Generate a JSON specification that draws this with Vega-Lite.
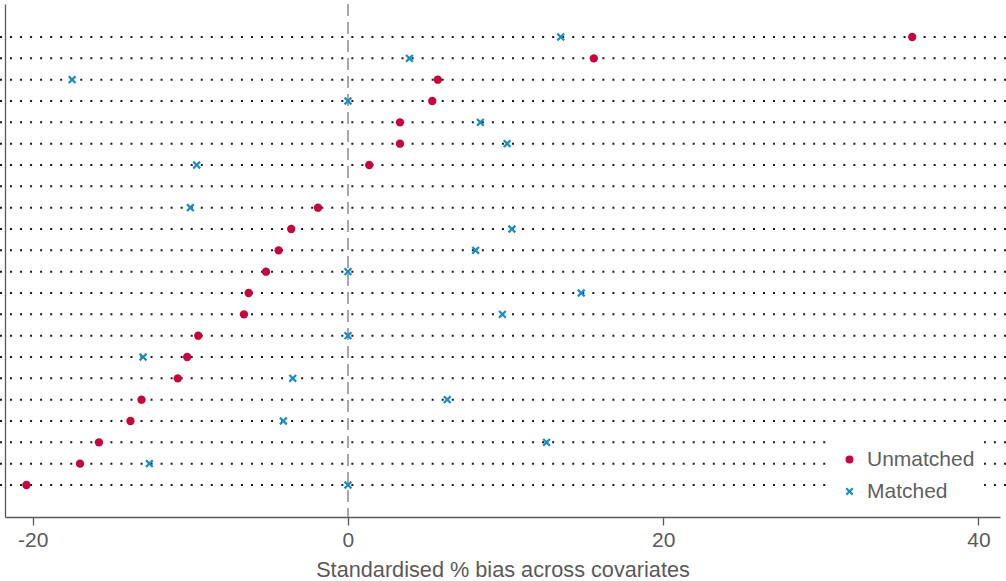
{
  "$schema": "https://vega.github.io/schema/vega-lite/v6.json",
  "width": 995,
  "height": 513,
  "autosize": "none",
  "padding": {"left": 5, "top": 4, "right": 6, "bottom": 64},
  "background": "white",
  "config": {
    "font": "Liberation Sans",
    "view": {"stroke": null},
    "axisX": {
      "grid": false,
      "tickSize": 8,
      "tickWidth": 1.3,
      "tickColor": "#5a5a5a",
      "domainColor": "#5a5a5a",
      "domainWidth": 1.3,
      "labelFontSize": 21,
      "labelColor": "#5a5a5a",
      "labelPadding": 4,
      "titleFontSize": 21.7,
      "titleFontWeight": "normal",
      "titleColor": "#5a5a5a",
      "titlePadding": 9
    },
    "axisY": {
      "grid": false,
      "ticks": false,
      "labels": false,
      "domainColor": "#5a5a5a",
      "domainWidth": 1.3
    }
  },
  "data": {
    "values": [
      {"row": 1, "Unmatched": 35.8, "Matched": 13.5},
      {"row": 2, "Unmatched": 15.6, "Matched": 3.9},
      {"row": 3, "Unmatched": 5.7, "Matched": -17.5},
      {"row": 4, "Unmatched": 5.35, "Matched": 0.0},
      {"row": 5, "Unmatched": 3.3, "Matched": 8.4},
      {"row": 6, "Unmatched": 3.3, "Matched": 10.1},
      {"row": 7, "Unmatched": 1.35, "Matched": -9.6},
      {"row": 8, "Unmatched": null, "Matched": null},
      {"row": 9, "Unmatched": -1.9, "Matched": -10.0},
      {"row": 10, "Unmatched": -3.6, "Matched": 10.4},
      {"row": 11, "Unmatched": -4.4, "Matched": 8.1},
      {"row": 12, "Unmatched": -5.2, "Matched": 0.0},
      {"row": 13, "Unmatched": -6.3, "Matched": 14.8},
      {"row": 14, "Unmatched": -6.6, "Matched": 9.8},
      {"row": 15, "Unmatched": -9.5, "Matched": 0.0},
      {"row": 16, "Unmatched": -10.2, "Matched": -13.0},
      {"row": 17, "Unmatched": -10.8, "Matched": -3.5},
      {"row": 18, "Unmatched": -13.1, "Matched": 6.3},
      {"row": 19, "Unmatched": -13.8, "Matched": -4.1},
      {"row": 20, "Unmatched": -15.8, "Matched": 12.6},
      {"row": 21, "Unmatched": -17.0, "Matched": -12.6},
      {"row": 22, "Unmatched": -20.4, "Matched": 0.0}
    ]
  },
  "layer": [
    {
      "mark": {"type": "rule", "strokeDash": [2, 8.04], "strokeWidth": 2, "color": "#1a1a1a"},
      "encoding": {
        "y": {
          "field": "row",
          "type": "quantitative",
          "scale": {"domain": [-0.547, 23.5], "reverse": true, "nice": false, "zero": false},
          "title": null
        },
        "x": {
          "datum": -22.08,
          "type": "quantitative",
          "scale": {"domain": [-21.76, 41.37], "nice": false, "zero": false},
          "axis": {"values": [-20, 0, 20, 40], "labelExpr": "'' + datum.value"},
          "title": "Standardised % bias across covariates"
        },
        "x2": {"datum": 41.75}
      }
    },
    {
      "mark": {"type": "rule", "strokeDash": [12, 6], "strokeWidth": 1.5, "color": "#a8a8a8"},
      "encoding": {
        "x": {"datum": 0, "type": "quantitative", "axis": {"values": [-20, 0, 20, 40], "labelExpr": "'' + datum.value"}, "title": "Standardised % bias across covariates"}
      }
    },
    {
      "transform": [
        {"fold": ["Unmatched", "Matched"], "as": ["series", "bias"]},
        {"filter": "datum.bias != null"}
      ],
      "mark": {"type": "point", "filled": true, "opacity": 1, "size": 70},
      "encoding": {
        "x": {"field": "bias", "type": "quantitative", "axis": {"values": [-20, 0, 20, 40], "labelExpr": "'' + datum.value"}, "title": "Standardised % bias across covariates"},
        "y": {"field": "row", "type": "quantitative", "title": null},
        "color": {
          "field": "series",
          "type": "nominal",
          "scale": {"domain": ["Unmatched", "Matched"], "range": ["#C4093A", "#1B8DC4"]},
          "legend": {
            "title": null,
            "orient": "none",
            "legendX": 825,
            "legendY": 436,
            "fillColor": "white",
            "padding": 9,
            "symbolSize": 64,
            "labelFontSize": 21,
            "labelColor": "#5f5f5f",
            "labelOffset": 7,
            "rowPadding": 10,
            "symbolStrokeWidth": 0
          }
        },
        "shape": {
          "field": "series",
          "type": "nominal",
          "scale": {
            "domain": ["Unmatched", "Matched"],
            "range": ["circle", "M-1,-0.62L-0.62,-1L0,-0.38L0.62,-1L1,-0.62L0.38,0L1,0.62L0.62,1L0,0.38L-0.62,1L-1,0.62L-0.38,0Z"]
          },
          "legend": null
        }
      }
    }
  ]
}
